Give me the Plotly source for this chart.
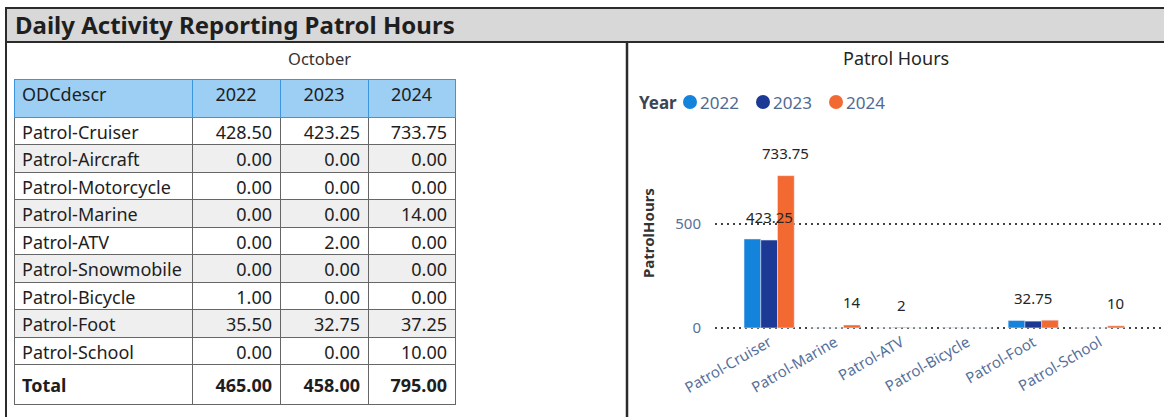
import plotly.graph_objects as go

# ---- data ----
categories = ["Patrol-Cruiser", "Patrol-Aircraft", "Patrol-Motorcycle", "Patrol-Marine",
              "Patrol-ATV", "Patrol-Snowmobile", "Patrol-Bicycle", "Patrol-Foot", "Patrol-School"]
years = ["2022", "2023", "2024"]
hours_2022 = [428.50, 0.00, 0.00, 0.00, 0.00, 0.00, 1.00, 35.50, 0.00]
hours_2023 = [423.25, 0.00, 0.00, 0.00, 2.00, 0.00, 0.00, 32.75, 0.00]
hours_2024 = [733.75, 0.00, 0.00, 14.00, 0.00, 0.00, 0.00, 37.25, 10.00]
# which bar labels Power BI kept (the rest were hidden for overlap)
label_2022 = [False, False, False, False, False, False, False, False, False]
label_2023 = [True, False, False, False, True, False, False, True, False]
label_2024 = [True, False, False, True, False, False, False, False, True]

W, H = 1164, 417
FONT = "Noto Sans, Open Sans, sans-serif"


def px(x):
    return x / W


def py(y):
    return 1 - y / H


series = [hours_2022, hours_2023, hours_2024]
labels = [label_2022, label_2023, label_2024]
colors = ["#1383dc", "#1c3a95", "#f26a32"]

# ---- table ----
totals = [sum(s) for s in series]
name_col = categories + ["<b>Total</b>"]
num_cols = [["%.2f" % v for v in s] + ["<b>%.2f</b>" % t] for s, t in zip(series, totals)]
row_fill = ["white" if i % 2 == 0 or i == len(name_col) - 1 else "#efefef" for i in range(len(name_col))]

fig = go.Figure()
fig.add_trace(go.Table(
    domain=dict(x=[px(14), px(455)], y=[0, py(79)]),
    columnwidth=[178, 88, 88, 87],
    header=dict(values=["ODCdescr"] + years,
                fill_color="#9ccff3",
                align=["left", "center", "center", "center"],
                height=38,
                font=dict(family=FONT, size=18, color="#1e1e1e"),
                line=dict(color="#3d96dd", width=1)),
    cells=dict(values=[name_col] + num_cols,
               fill_color=[row_fill] * 4,
               align=["left", "right", "right", "right"],
               height=27.5,
               font=dict(family=FONT, size=18, color="#1e1e1e"),
               line=dict(color="#666666", width=1)),
))

# ---- bar chart (only categories with any hours) ----
keep = [i for i in range(len(categories)) if any(s[i] for s in series)]
chart_cats = [categories[i] for i in keep]
bar_px = 16.7  # approx rendered bar width, used to centre labels over grouped bars
for k, (yr, s, lab, col) in enumerate(zip(years, series, labels, colors)):
    vals = [s[i] for i in keep]
    fig.add_trace(go.Bar(x=chart_cats, y=vals, name=yr, marker_color=col,
                         cliponaxis=False, showlegend=False))
    for i in keep:
        if lab[i]:
            fig.add_annotation(x=categories[i], y=s[i], text="%g" % s[i], showarrow=False,
                               xshift=(k - 1) * bar_px, yshift=11, yanchor="bottom",
                               font=dict(size=15, color="#252525"))

fig.update_layout(
    width=W, height=H,
    margin=dict(l=0, r=0, t=0, b=0),
    paper_bgcolor="white", plot_bgcolor="white",
    font=dict(family=FONT),
    barmode="group", bargap=0.24, bargroupgap=0,
    showlegend=False,
    xaxis=dict(domain=[px(715), 1.0], range=[-0.82, 5.98], tickangle=-30,
               tickfont=dict(size=15, color="#56709a"), showgrid=False,
               showline=False, zeroline=False, ticks="", automargin=False),
    yaxis=dict(domain=[py(330), py(164)], range=[-10, 790], tickvals=[0, 500],
               tickfont=dict(size=15, color="#56709a"), showgrid=True,
               gridcolor="#444444", griddash="2px,4px", gridwidth=1.5, zeroline=False,
               ticks="outside", ticklen=10, tickcolor="rgba(0,0,0,0)", automargin=False),
)
fig.add_annotation(text="<b>PatrolHours</b>", xref="paper", yref="paper", x=px(648), y=py(233),
                   textangle=-90, showarrow=False, font=dict(size=15, color="#333333"))

# ---- legend drawn Power BI style: round markers tight to labels ----
fig.add_annotation(text="<b>Year</b>", xref="paper", yref="paper", x=px(637), y=py(102),
                   xanchor="left", yanchor="middle", showarrow=False,
                   font=dict(size=17, color="#3a4656"))
shapes = []
for k, (yr, col) in enumerate(zip(years, colors)):
    cx = 690 + k * 73
    shapes.append(dict(type="circle", xref="paper", yref="paper", xsizemode="pixel",
                       ysizemode="pixel", xanchor=px(cx), yanchor=py(102),
                       x0=-7, x1=7, y0=-7, y1=7, fillcolor=col, line=dict(width=0)))
    fig.add_annotation(text=yr, xref="paper", yref="paper", x=px(cx + 8), y=py(102),
                       xanchor="left", yanchor="middle", showarrow=False,
                       font=dict(size=17, color="#4f6a92"))

# ---- frame, title bar and panel headings ----
shapes += [
    dict(type="rect", xref="paper", yref="paper", x0=px(6), x1=px(1170), y0=py(42), y1=py(8),
         fillcolor="#d8d8d8", line=dict(color="#2b2b2b", width=2), layer="below"),
    dict(type="line", xref="paper", yref="paper", x0=px(6), x1=px(6), y0=py(42), y1=py(420),
         line=dict(color="#2b2b2b", width=2)),
    dict(type="line", xref="paper", yref="paper", x0=px(627), x1=px(627), y0=py(42), y1=py(420),
         line=dict(color="#2b2b2b", width=2.5)),
]
fig.update_layout(shapes=shapes)
fig.add_annotation(text="<b>Daily Activity Reporting Patrol Hours</b>", xref="paper", yref="paper",
                   x=px(13), y=py(25), xanchor="left", yanchor="middle", showarrow=False,
                   font=dict(size=24, color="#1f1f1f"))
fig.add_annotation(text="October", xref="paper", yref="paper", x=px(319), y=py(58),
                   xanchor="center", yanchor="middle", showarrow=False,
                   font=dict(size=16.5, color="#333333"))
fig.add_annotation(text="Patrol Hours", xref="paper", yref="paper", x=px(896), y=py(58),
                   xanchor="center", yanchor="middle", showarrow=False,
                   font=dict(size=18, color="#252525"))

# page body has a default 8px margin; drop it so the figure sits at the window origin
fig.write_html("out.html", config={"displayModeBar": False},
               post_script="document.body.style.margin='0px';")
